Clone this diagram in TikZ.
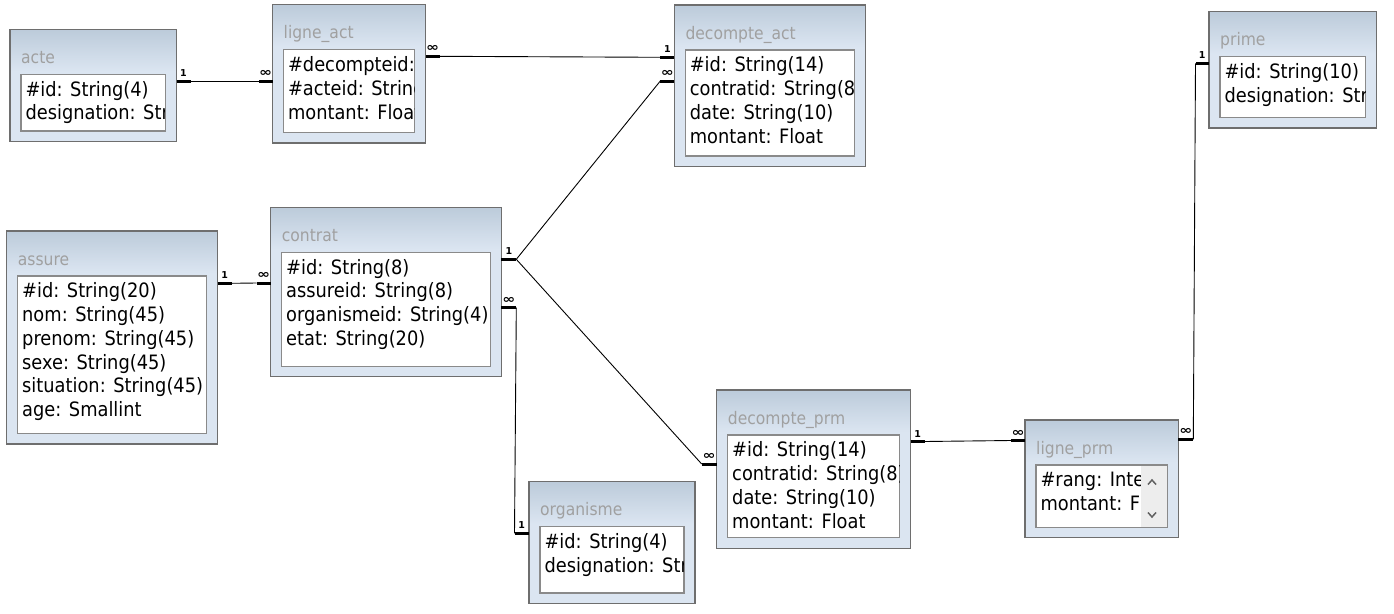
\documentclass[tikz,border=0pt]{standalone}
\usepackage{fontspec}
\setmainfont{DejaVu Sans}[FakeStretch=0.9]
\newfontfamily\markfont{DejaVu Sans}
\usetikzlibrary{calc}

\definecolor{hdrtop}{HTML}{BCCBDA}
\definecolor{hdrbot}{HTML}{DBE5F1}
\definecolor{framegray}{HTML}{6E6E6E}
\definecolor{innergray}{HTML}{8A8A8A}
\definecolor{titlegray}{HTML}{A0A0A0}
\definecolor{scrollbg}{HTML}{EDEDED}
\definecolor{chevgray}{HTML}{606060}

\newcommand\rowfont{\fontsize{19.8}{23.8}\selectfont}
\newcommand\titlefont{\fontsize{17.3}{20}\selectfont}
\newcommand\many{{\fontsize{12}{12}\selectfont\scalebox{1.3}[1]{∞}}}

\tikzset{
  tablebox/.style={fill=hdrbot, inner sep=0pt, outer sep=0pt},
  frameline/.style={draw=framegray, line width=1.3pt},
  bodybox/.style={fill=white, draw=innergray, line width=1.3pt, inner sep=0pt, outer sep=0pt},
  titletext/.style={font=\titlefont, text=titlegray, inner sep=0pt},
  rowtext/.style={font=\rowfont, text=black, inner sep=0pt},
  stubline/.style={line width=3pt, black},
  linkline/.style={line width=0.9pt, black},
  marklabel/.style={font=\markfont\bfseries\fontsize{9.5}{10}\selectfont, inner sep=0pt, anchor=base},
}

% #1 name, #2-#5 outer box, #6 title, #7 right clip inset, #8 rows
\newcommand\dbtable[8]{%
  \node[tablebox, anchor=north west, minimum width={(#4-#2)*1pt}, minimum height={(#5-#3)*1pt}] (#1) at (#2,#3) {};
  \shade[top color=hdrtop, bottom color=hdrbot] (#2,#3) rectangle (#4,#3+42);
  \draw[frameline] (#1.north west) rectangle (#1.south east);
  \node[titletext, anchor=base west] (#1-title) at (#2+11,#3+34) {#6};
  \node[bodybox, anchor=north west, minimum width={(#4-#2-22)*1pt}, minimum height={(#5-#3-55.5)*1pt}] (#1-body) at (#2+11,#3+45) {};
  \begin{scope}
    \clip ($(#1-body.north west)+(0.7,0.7)$) rectangle ($(#1-body.south east)+(-#7,-0.7)$);
    \foreach \row [count=\k] in {#8} {
      \node[rowtext, anchor=base west] at (#2+15.3, #3+66.7+\k*23.8-23.8) {\row};
    }
  \end{scope}
}

% #1 anchor point, #2 stub length (signed), #3 mark
\newcommand\relmark[3]{%
  \draw[stubline] (#1) -- ++(#2,0) coordinate (#1-tip);
  \node[marklabel] at ($(#1)+(#2/2,-4.5)$) {#3};
}

\begin{document}
\begin{tikzpicture}[x=1pt,y=-1pt]
\useasboundingbox[fill=white] (0,0) rectangle (1394,613);

\dbtable{acte}{10}{29.3}{176.5}{141.5}{acte}{0.7}{\#id: String(4), designation: String}
\dbtable{ligne_act}{272.5}{4.7}{425.7}{143}{ligne\_act}{0.7}{\#decompteid: String, \#acteid: String, montant: Float}
\dbtable{decompte_act}{674.3}{5}{865.3}{166.5}{decompte\_act}{0.7}{\#id: String(14), contratid: String(8), date: String(10), montant: Float}
\dbtable{prime}{1209}{11.7}{1376.7}{128}{prime}{0.7}{\#id: String(10), designation: String}
\dbtable{assure}{6.7}{231}{217.7}{444}{assure}{0.7}{\#id: String(20), nom: String(45), prenom: String(45), sexe: String(45), situation: String(45), age: Smallint}
\dbtable{contrat}{270.7}{207.3}{501.3}{376.7}{contrat}{0.7}{\#id: String(8), assureid: String(8), organismeid: String(4), etat: String(20)}
\dbtable{decompte_prm}{716.7}{390}{910.7}{548.3}{decompte\_prm}{0.7}{\#id: String(14), contratid: String(8), date: String(10), montant: Float}
\dbtable{ligne_prm}{1025}{420}{1178.3}{537.7}{ligne\_prm}{26.5}{\#rang: Integer, montant: Float}
\dbtable{organisme}{529}{481.7}{695}{603.5}{organisme}{0.7}{\#id: String(4), designation: String}

% scroll bar of the ligne_prm field list
\fill[scrollbg] ($(ligne_prm-body.north east)+(-26,0.7)$) rectangle ($(ligne_prm-body.south east)+(-0.7,-0.7)$);
\draw[chevgray, line width=1.5pt] ($(ligne_prm-body.north east)+(-19.3,19.5)$) -- ++(4,-4.5) -- ++(4,4.5);
\draw[chevgray, line width=1.5pt] ($(ligne_prm-body.north east)+(-19.3,47.5)$) -- ++(4,4.5) -- ++(4,-4.5);

% relation end points
\coordinate (acte-r) at (acte.east |- 0,81);
\coordinate (ligneact-l) at (ligne_act.west |- 0,81);
\coordinate (ligneact-r) at (ligne_act.east |- 0,56.3);
\coordinate (dact-l1) at (decompte_act.west |- 0,57.3);
\coordinate (dact-l2) at (decompte_act.west |- 0,81);
\coordinate (contrat-r1) at (contrat.east |- 0,259.3);
\coordinate (contrat-r2) at (contrat.east |- 0,307.5);
\coordinate (contrat-l) at (contrat.west |- 0,283);
\coordinate (assure-r) at (assure.east |- 0,283.3);
\coordinate (dprm-l) at (decompte_prm.west |- 0,464);
\coordinate (dprm-r) at (decompte_prm.east |- 0,441.5);
\coordinate (lprm-l) at (ligne_prm.west |- 0,440.5);
\coordinate (lprm-r) at (ligne_prm.east |- 0,439.3);
\coordinate (prime-l) at (prime.west |- 0,63.3);
\coordinate (org-l) at (organisme.west |- 0,533.3);

\relmark{acte-r}{14}{1}
\relmark{ligneact-l}{-14}{\many}
\relmark{ligneact-r}{14}{\many}
\relmark{dact-l1}{-14}{1}
\relmark{dact-l2}{-14}{\many}
\relmark{contrat-r1}{15}{1}
\relmark{contrat-r2}{15}{\many}
\relmark{contrat-l}{-14}{\many}
\relmark{assure-r}{14}{1}
\relmark{dprm-l}{-15}{\many}
\relmark{dprm-r}{14}{1}
\relmark{lprm-l}{-14}{\many}
\relmark{lprm-r}{15}{\many}
\relmark{prime-l}{-13.5}{1}
\relmark{org-l}{-14.5}{1}

% relations
\draw[linkline] (acte-r-tip) -- (ligneact-l-tip);
\draw[linkline] (ligneact-r-tip) -- (dact-l1-tip);
\draw[linkline] (contrat-r1-tip) -- (dact-l2-tip);
\draw[linkline] (contrat-r1-tip) -- (dprm-l-tip);
\draw[linkline] (contrat-r2-tip) -- (org-l-tip);
\draw[linkline] (assure-r-tip) -- (contrat-l-tip);
\draw[linkline] (dprm-r-tip) -- (lprm-l-tip);
\draw[linkline] (lprm-r-tip) -- (prime-l-tip);
\end{tikzpicture}
\end{document}
